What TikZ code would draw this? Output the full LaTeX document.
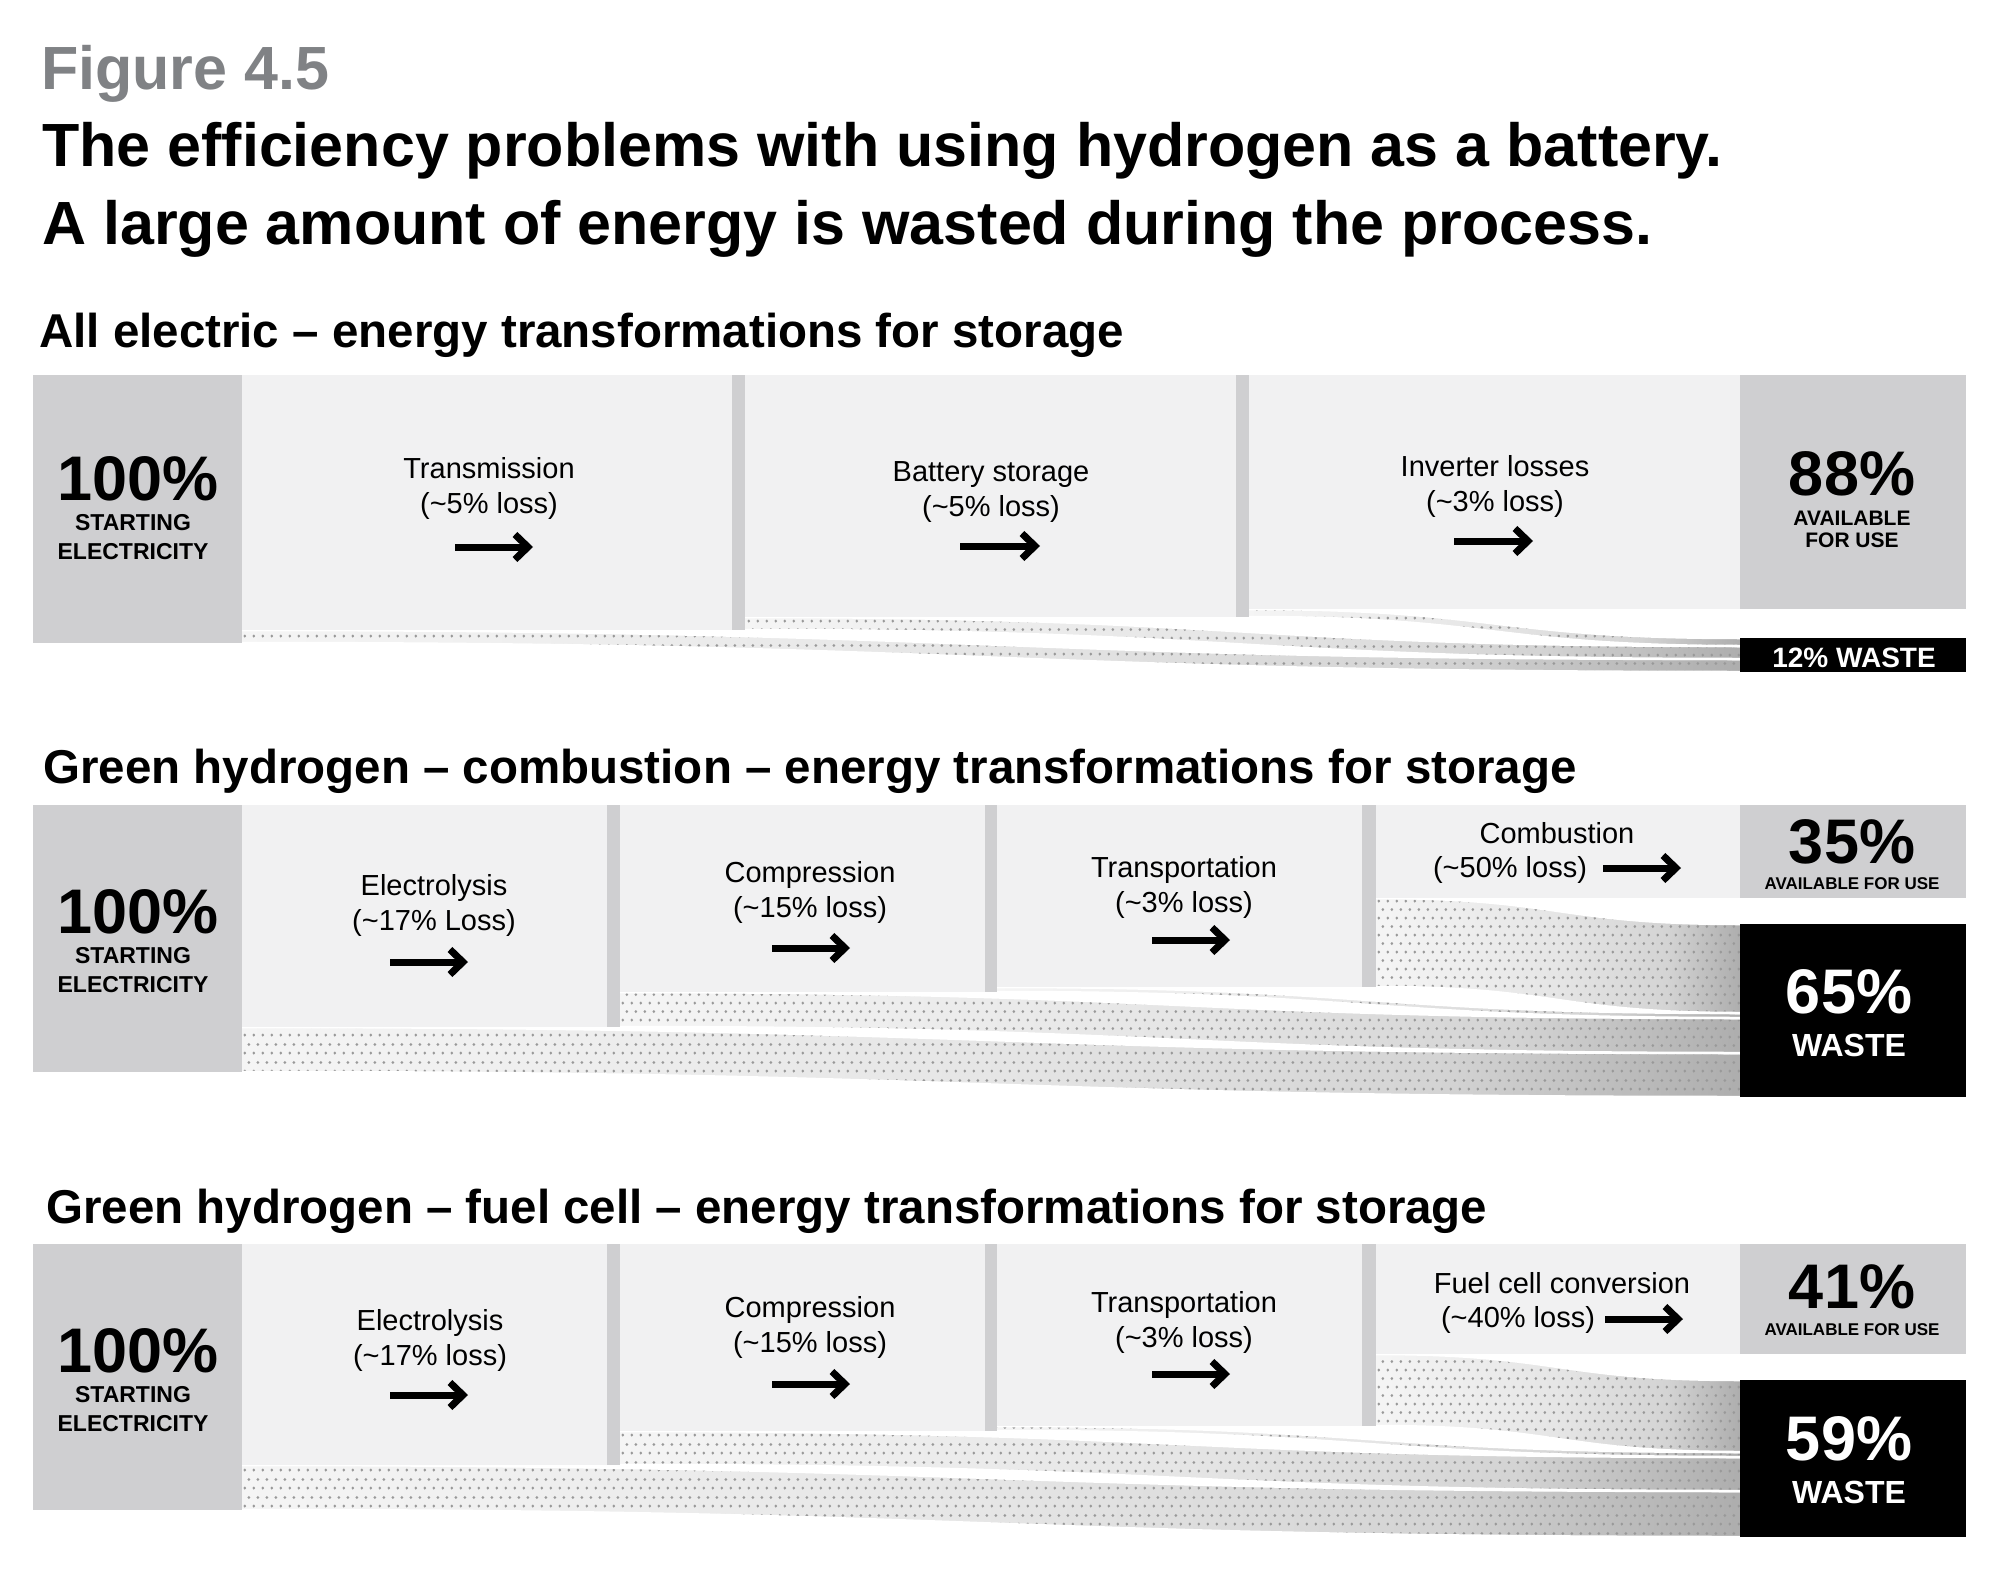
\documentclass[tikz,border=0pt]{standalone}
\usepackage{fontspec}
\setmainfont{Liberation Sans}
\usetikzlibrary{arrows.meta,patterns}

\definecolor{boxgray}{HTML}{CFCFD1}
\definecolor{stepgray}{HTML}{F1F1F2}
\definecolor{figgray}{HTML}{808285}

% light-to-dark fill of the loss bands
\pgfdeclarehorizontalshading{bandshade}{100bp}{color(0bp)=(gray!8); color(25bp)=(gray!8); color(50bp)=(gray!20); color(65bp)=(gray!34); color(75bp)=(gray!64); color(100bp)=(gray!64)}
% staggered dot grid on the loss bands
\pgfdeclarepatternformonly{wastedots}{\pgfqpoint{0pt}{0pt}}{\pgfqpoint{9pt}{17.4pt}}{\pgfqpoint{9pt}{17.4pt}}{%
  \pgfpathcircle{\pgfqpoint{2pt}{2pt}}{1.6pt}%
  \pgfpathcircle{\pgfqpoint{6.5pt}{10.7pt}}{1.6pt}%
  \pgfusepath{fill}}

% loss band: left x, top, bottom, top and bottom at the waste box
\newcommand{\lossband}[5]{%
  \pgfmathsetmacro{\xm}{(#1+1740)/2}
  \path[bandfill] (#1,#2) .. controls (\xm,#2) and (\xm,#4) .. (1740,#4) -- (1740,#5) .. controls (\xm,#5) and (\xm,#3) .. (#1,#3) -- cycle;
  \path[banddots] (#1,#2) .. controls (\xm,#2) and (\xm,#4) .. (1740,#4) -- (1740,#5) .. controls (\xm,#5) and (\xm,#3) .. (#1,#3) -- cycle;
  \draw[bandedge] (#1,#2) .. controls (\xm,#2) and (\xm,#4) .. (1740,#4);
  \draw[bandedge] (1740,#5) .. controls (\xm,#5) and (\xm,#3) .. (#1,#3);
}

\begin{document}
\begin{tikzpicture}[x=1pt, y=-1pt,
    bandfill/.style={shading=bandshade},
    banddots/.style={pattern=wastedots, pattern color=gray!80},
    bandedge/.style={draw=white, line width=2.5pt},
    steptext/.style={font=\fontsize{29}{35}\selectfont, align=center, anchor=base, inner sep=0pt},
    steparrow/.style={line width=7pt, -{Straight Barb[length=13pt, width=25pt]}},
    pctbig/.style={font=\bfseries\fontsize{63}{63}\selectfont, anchor=base, inner sep=0pt},
    startlabel/.style={font=\bfseries\fontsize{23}{29}\selectfont, align=center, anchor=base, inner sep=0pt},
    availlabel/.style={font=\bfseries\fontsize{17}{17}\selectfont, anchor=base, inner sep=0pt},
    sectitle/.style={font=\bfseries\fontsize{47.5}{47.5}\selectfont, anchor=base west, inner sep=0pt}]
\useasboundingbox[fill=white] (0,0) rectangle (2000,1578);

% header (multi-line nodes sit on their last baseline)
\node[anchor=base west, inner sep=0pt, text=figgray, font=\bfseries\fontsize{61}{61}\selectfont] (figno) at (41,90) {Figure 4.5};
\node[anchor=base west, inner sep=0pt, align=left, font=\bfseries\fontsize{61}{78}\selectfont] (title) at (42,245) {The efficiency problems with using hydrogen as a battery.\\A large amount of energy is wasted during the process.};

% all electric
\node[sectitle] (elechead) at (39,348) {All electric -- energy transformations for storage};
\lossband{242}{630}{643}{659}{672}
\lossband{745}{617}{630}{646}{659}
\lossband{1249}{609}{617}{638}{646}
\fill[boxgray] (33,375) rectangle (242,643);
\fill[stepgray] (242,375) rectangle (732,630);
\fill[boxgray] (732,375) rectangle (745,630);
\fill[stepgray] (745,375) rectangle (1236,617);
\fill[boxgray] (1236,375) rectangle (1249,617);
\fill[stepgray] (1249,375) rectangle (1740,609);
\fill[boxgray] (1740,375) rectangle (1966,609);
\fill[black] (1740,638) rectangle (1966,672);
\node[pctbig] (elecstart) at (138,500) {100\%};
\node[startlabel] (elecstartlab) at (133,559) {STARTING\\ELECTRICITY};
\node[steptext] (transm) at (489,513) {Transmission\\(\textasciitilde5\% loss)};
\draw[steparrow] (455,547) -- (533,547);
\node[steptext] (battery) at (991,516) {Battery storage\\(\textasciitilde5\% loss)};
\draw[steparrow] (960,546) -- (1040,546);
\node[steptext] (inverter) at (1495,511) {Inverter losses\\(\textasciitilde3\% loss)};
\draw[steparrow] (1454,541) -- (1533,541);
\node[pctbig] (elecavail) at (1852,495) {88\%};
\node[startlabel, font=\bfseries\fontsize{21}{22}\selectfont] (elecavaillab) at (1852,547) {AVAILABLE\\FOR USE};
\node[anchor=base, inner sep=0pt, text=white, font=\bfseries\fontsize{28}{28}\selectfont] (elecwaste) at (1854,667) {12\% WASTE};

% green hydrogen, combustion
\node[sectitle] (combhead) at (43,783) {Green hydrogen -- combustion -- energy transformations for storage};
\lossband{242}{1027}{1072}{1053}{1097}
\lossband{620}{992}{1027}{1018}{1053}
\lossband{997}{987}{992}{1013}{1018}
\lossband{1376}{898}{987}{924}{1013}
\fill[boxgray] (33,805) rectangle (242,1072);
\fill[stepgray] (242,805) rectangle (607,1027);
\fill[boxgray] (607,805) rectangle (620,1027);
\fill[stepgray] (620,805) rectangle (985,992);
\fill[boxgray] (985,805) rectangle (997,992);
\fill[stepgray] (997,805) rectangle (1362,987);
\fill[boxgray] (1362,805) rectangle (1376,987);
\fill[stepgray] (1376,805) rectangle (1740,898);
\fill[boxgray] (1740,805) rectangle (1966,898);
\fill[black] (1740,924) rectangle (1966,1097);
\node[pctbig] (combstart) at (138,933) {100\%};
\node[startlabel] (combstartlab) at (133,992) {STARTING\\ELECTRICITY};
\node[steptext] (combelec) at (434,930) {Electrolysis\\(\textasciitilde17\% Loss)};
\draw[steparrow] (390,962) -- (468,962);
\node[steptext] (combcomp) at (810,917) {Compression\\(\textasciitilde15\% loss)};
\draw[steparrow] (772,948) -- (850,948);
\node[steptext] (combtrans) at (1184,912) {Transportation\\(\textasciitilde3\% loss)};
\draw[steparrow] (1152,940) -- (1230,940);
\node[steptext] (combburn) at (1557,843) {Combustion};
\node[steptext] (combburnloss) at (1510,877) {(\textasciitilde50\% loss)};
\draw[steparrow] (1603,868) -- (1681,868);
\node[pctbig] (combavail) at (1852,863) {35\%};
\node[availlabel] (combavaillab) at (1852,889) {AVAILABLE FOR USE};
\node[pctbig, text=white] (combwaste) at (1849,1013) {65\%};
\node[anchor=base, inner sep=0pt, text=white, font=\bfseries\fontsize{32}{32}\selectfont] (combwastelab) at (1849,1056) {WASTE};

% green hydrogen, fuel cell
\node[sectitle] (fuelhead) at (46,1223) {Green hydrogen -- fuel cell -- energy transformations for storage};
\lossband{242}{1465}{1510}{1491}{1537}
\lossband{620}{1431}{1465}{1457}{1491}
\lossband{997}{1426}{1431}{1452}{1457}
\lossband{1376}{1354}{1426}{1380}{1452}
\fill[boxgray] (33,1244) rectangle (242,1510);
\fill[stepgray] (242,1244) rectangle (607,1465);
\fill[boxgray] (607,1244) rectangle (620,1465);
\fill[stepgray] (620,1244) rectangle (985,1431);
\fill[boxgray] (985,1244) rectangle (997,1431);
\fill[stepgray] (997,1244) rectangle (1362,1426);
\fill[boxgray] (1362,1244) rectangle (1376,1426);
\fill[stepgray] (1376,1244) rectangle (1740,1354);
\fill[boxgray] (1740,1244) rectangle (1966,1354);
\fill[black] (1740,1380) rectangle (1966,1537);
\node[pctbig] (fuelstart) at (138,1372) {100\%};
\node[startlabel] (fuelstartlab) at (133,1431) {STARTING\\ELECTRICITY};
\node[steptext] (fuelelec) at (430,1365) {Electrolysis\\(\textasciitilde17\% loss)};
\draw[steparrow] (390,1395) -- (468,1395);
\node[steptext] (fuelcomp) at (810,1352) {Compression\\(\textasciitilde15\% loss)};
\draw[steparrow] (772,1384) -- (850,1384);
\node[steptext] (fueltrans) at (1184,1347) {Transportation\\(\textasciitilde3\% loss)};
\draw[steparrow] (1152,1374) -- (1230,1374);
\node[steptext] (fuelcell) at (1562,1293) {Fuel cell conversion};
\node[steptext] (fuelcellloss) at (1518,1327) {(\textasciitilde40\% loss)};
\draw[steparrow] (1605,1319) -- (1683,1319);
\node[pctbig] (fuelavail) at (1852,1308) {41\%};
\node[availlabel] (fuelavaillab) at (1852,1335) {AVAILABLE FOR USE};
\node[pctbig, text=white] (fuelwaste) at (1849,1460) {59\%};
\node[anchor=base, inner sep=0pt, text=white, font=\bfseries\fontsize{32}{32}\selectfont] (fuelwastelab) at (1849,1503) {WASTE};
\end{tikzpicture}
\end{document}
